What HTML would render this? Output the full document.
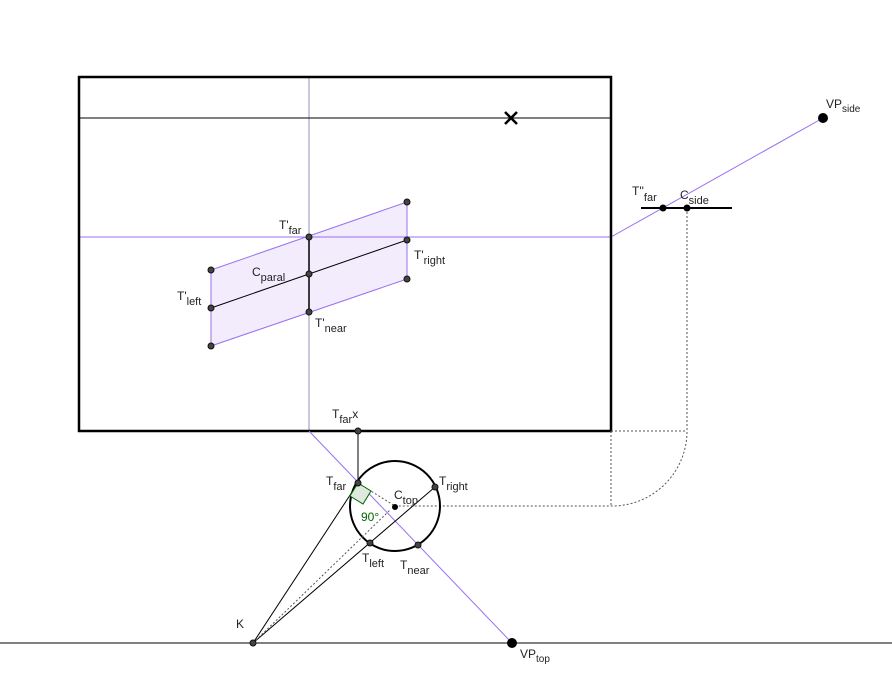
<!DOCTYPE html>
<html><head><meta charset="utf-8"><style>
body{margin:0;background:#fff}
text{font-family:"Liberation Sans",sans-serif;font-size:12px;fill:#222}
.s{font-size:10px}
</style></head><body>
<svg width="892" height="687" xmlns="http://www.w3.org/2000/svg">
<rect x="0" y="0" width="892" height="687" fill="#fff"/>
<!-- parallelogram -->
<polygon points="211,270 407,202 407,279 211,346" fill="#f2ecfd" stroke="#9a70f0" stroke-width="1"/>
<line x1="309" y1="77" x2="309" y2="431" stroke="#9990b8" stroke-width="1"/>
<line x1="79" y1="237" x2="611" y2="237" stroke="#9a70f0" stroke-width="1"/>
<line x1="611" y1="237" x2="823" y2="118" stroke="#9a70f0" stroke-width="1"/>
<line x1="211" y1="308" x2="407" y2="240" stroke="#000" stroke-width="1"/>
<line x1="309" y1="237" x2="309" y2="312" stroke="#000" stroke-width="1.5"/>
<rect x="79" y="77" width="532" height="354" fill="none" stroke="#000" stroke-width="2.5"/>
<line x1="79" y1="118" x2="611" y2="118" stroke="#000" stroke-width="1"/>
<path d="M505,112 L517,124 M517,112 L505,124" stroke="#000" stroke-width="2.5"/>
<!-- side -->
<line x1="641" y1="208" x2="732" y2="208" stroke="#000" stroke-width="2"/>
<path d="M687,208 L687,431 A75,75 0 0 1 611,506 L395,506" fill="none" stroke="#555" stroke-width="1" stroke-dasharray="2,2"/>
<path d="M611,431 L611,506 M611,431 L687,431" fill="none" stroke="#555" stroke-width="1" stroke-dasharray="2,2"/>
<!-- bottom -->
<line x1="0" y1="643" x2="892" y2="643" stroke="#000" stroke-width="1"/>
<line x1="309" y1="431" x2="512" y2="643" stroke="#9a70f0" stroke-width="1"/>
<line x1="358" y1="431" x2="358" y2="483" stroke="#000" stroke-width="1"/>
<circle cx="395" cy="506" r="45" fill="none" stroke="#000" stroke-width="2"/>
<line x1="253" y1="643" x2="358" y2="483" stroke="#000" stroke-width="1"/>
<line x1="253" y1="643" x2="435" y2="487" stroke="#000" stroke-width="1"/>
<path d="M358,483 L395,506 M253,643 L390,510" stroke="#555" stroke-width="1" stroke-dasharray="2,2"/>
<polygon points="358,483 371,491 363,504 350,496" fill="#dfeadf" stroke="#006400" stroke-width="1"/>
<text x="361" y="521" fill="#006400" style="fill:#006400">90°</text>
<!-- points -->
<g fill="#444" stroke="#111" stroke-width="1">
<circle cx="211" cy="270" r="3"/><circle cx="407" cy="202" r="3"/><circle cx="407" cy="279" r="3"/><circle cx="211" cy="346" r="3"/>
<circle cx="211" cy="308" r="3"/><circle cx="407" cy="240" r="3"/><circle cx="309" cy="237" r="3"/><circle cx="309" cy="274" r="3"/><circle cx="309" cy="312" r="3"/>
<circle cx="358" cy="431" r="3"/><circle cx="358" cy="483" r="3"/><circle cx="435" cy="487" r="3"/><circle cx="370" cy="543" r="3"/><circle cx="418" cy="545" r="3"/><circle cx="253" cy="643" r="3"/>
</g>
<g fill="#000"><circle cx="663" cy="208" r="3.5"/><circle cx="687" cy="208" r="3.5"/><circle cx="823" cy="118" r="5"/><circle cx="512" cy="643" r="5"/><circle cx="395" cy="507" r="3"/></g>
<!-- labels -->
<text x="279" y="229">T'<tspan class="s" dy="5" style="font-size:11px">far</tspan></text>
<text x="252" y="276">C<tspan dy="5" style="font-size:11px">paral</tspan></text>
<text x="414" y="259">T'<tspan dy="5" style="font-size:11px">right</tspan></text>
<text x="177" y="300">T'<tspan dy="5" style="font-size:11px">left</tspan></text>
<text x="315" y="327">T'<tspan dy="5" style="font-size:11px">near</tspan></text>
<text x="332" y="418">T<tspan dy="5" style="font-size:11px">far</tspan><tspan dy="-5">x</tspan></text>
<text x="326" y="485">T<tspan dy="5" style="font-size:11px">far</tspan></text>
<text x="439" y="485">T<tspan dy="5" style="font-size:11px">right</tspan></text>
<text x="394" y="499">C<tspan dy="5" style="font-size:11px">top</tspan></text>
<text x="362" y="562">T<tspan dy="5" style="font-size:11px">left</tspan></text>
<text x="400" y="569">T<tspan dy="5" style="font-size:11px">near</tspan></text>
<text x="236" y="628">K</text>
<text x="520" y="658">VP<tspan dy="4" style="font-size:10px">top</tspan></text>
<text x="826" y="108">VP<tspan dy="4" style="font-size:10px">side</tspan></text>
<text x="632" y="195">T''<tspan dy="6" style="font-size:11px">far</tspan></text>
<text x="680" y="199">C<tspan dy="5" style="font-size:11px">side</tspan></text>
</svg>
</body></html>
